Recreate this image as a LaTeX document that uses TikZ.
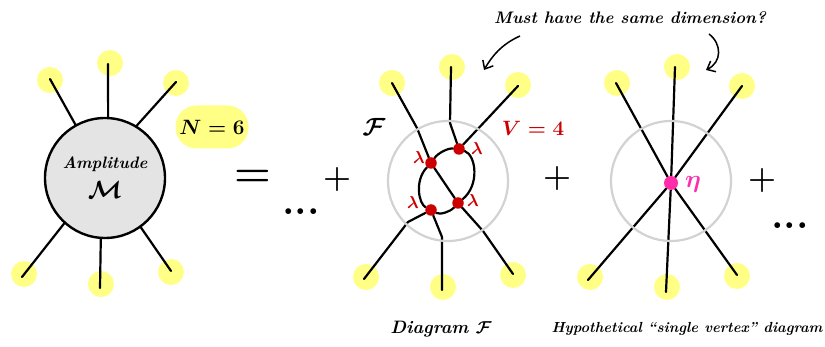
\documentclass[tikz,border=0pt]{standalone}
\usepackage{xcolor}
\definecolor{blobyellow}{HTML}{FFFF85}
\definecolor{ampgray}{HTML}{E4E4E4}
\definecolor{ringgray}{HTML}{D2D2D2}
\definecolor{vertred}{HTML}{CC0000}
\definecolor{vertpink}{HTML}{FF2DAA}
\usetikzlibrary{arrows.meta,backgrounds}
\newcommand{\handsize}[1]{\fontsize{#1}{#1}\selectfont}

\begin{document}
\begin{tikzpicture}[
x=1pt,y=-1pt,
blob/.style={circle,fill=blobyellow,minimum size=26pt,inner sep=0pt},
leg/.style={line width=2.2pt,line cap=round,line join=round},
ampl/.style={circle,draw,line width=2.4pt,fill=ampgray,minimum size=120pt,
inner sep=0pt,outer sep=0pt,align=center,font=\boldmath\bfseries\itshape\handsize{16.5}},
ring/.style={circle,draw=ringgray,line width=2.2pt,minimum size=120pt,
inner sep=0pt,outer sep=0pt},
vert/.style={circle,fill=vertred,minimum size=11.5pt,inner sep=0pt},
hand/.style={font=\boldmath\bfseries\itshape\handsize{18},inner sep=0pt},
sign/.style={font=\bfseries\handsize{32},inner sep=0pt},
dotsym/.style={font=\bfseries\handsize{40},inner sep=0pt},
lab/.style={text=vertred,font=\boldmath\handsize{18},inner sep=0pt},
note/.style={-{Straight Barb[length=7pt,width=12pt]},line width=1.5pt}
]
\useasboundingbox (0,0) rectangle (825,347);

% amplitude
\node[ampl] (amp) at (105,178) {Amplitude\\[9pt]\handsize{24}$\mathcal{M}$};
\begin{scope}[on background layer]
\foreach \n/\bx/\by/\ex/\ey/\ang in {1/50/80/50/79/119,2/110/63/108/64/87,
3/176/83/176/82/59,4/24/274/22/277/228,5/101/284/100/288/266,6/171/272/171/271/306}{
\node[blob] (a\n) at (\bx,\by) {};
\coordinate (ae\n) at (\ex,\ey);
\draw[leg] (ae\n) -- (amp.\ang);
}
\end{scope}
\node[rounded corners=21pt,fill=blobyellow,minimum width=73pt,minimum height=43pt,
inner sep=0pt,font=\boldmath\handsize{22}] (count) at (212,127) {$N=6$};

\node[sign,font=\bfseries\handsize{42}] (eq) at (253,178) {=};
\node[dotsym] (dots1) at (301,212) {...};
\node[sign] (plus1) at (337,180) {+};

% diagram F
\node[vert] (lam1) at (431,163) {};
\node[vert] (lam2) at (459,149) {};
\node[vert] (lam3) at (458,203) {};
\node[vert] (lam4) at (431,210) {};
\begin{scope}[on background layer]
\foreach \n/\bx/\by/\ex/\ey/\mx/\my/\v in {1/392/83/392/83/417/128/lam1,
2/452/67/451/67/450/123/lam2,3/518/85/518/86/490/116/lam2,
4/366/277/364/279/408/222/lam4,5/443/287/442/290/442/237/lam4,
6/513/275/513/274/483/231/lam3}{
\node[blob] (f\n) at (\bx,\by) {};
\coordinate (fe\n) at (\ex,\ey);
\coordinate (fm\n) at (\mx,\my);
\draw[leg] (fe\n) -- (fm\n) -- (\v);
}
\draw[leg] (lam1) -- (lam3);
\draw[leg] (lam1) .. controls (438,153) and (448,148) .. (lam2);
\draw[leg] (lam2) .. controls (476,155) and (480,185) .. (lam3);
\draw[leg] (lam3) .. controls (450,212) and (440,215) .. (lam4);
\draw[leg] (lam4) .. controls (419,204) and (414,181) .. (lam1);
\end{scope}
\node[ring] (ringf) at (448,181) {};
\node[lab] (l1) at (419,158) {$\lambda$};
\node[lab] (l2) at (477,149) {$\lambda$};
\node[lab] (l3) at (473,201) {$\lambda$};
\node[lab] (l4) at (413,203) {$\lambda$};
\node[lab,font=\boldmath\handsize{21}] (vcount) at (533,128) {$V=4$};
\node[inner sep=0pt,font=\boldmath\handsize{26}] (ftag) at (374,127) {$\mathcal{F}$};
\node[sign] (plus2) at (557,179) {+};

% single vertex
\node[vert,fill=vertpink,minimum size=14pt] (eta) at (671,183) {};
\begin{scope}[on background layer]
\foreach \n/\bx/\by/\ex/\ey in {1/617/83/616/83,2/677/67/675/67,3/742/86/742/86,
4/590/277/588/280,5/667/287/666/292,6/737/276/737/275}{
\node[blob] (s\n) at (\bx,\by) {};
\coordinate (se\n) at (\ex,\ey);
\draw[leg] (se\n) -- (eta);
}
\end{scope}
\node[ring] (rings) at (671,181) {};
\node[inner sep=0pt,text=vertpink,font=\boldmath\handsize{32}] (etalab) at (693,184) {$\eta$};
\node[sign] (plus3) at (762,181) {+};
\node[dotsym] (dots2) at (790,226) {...};

% remarks
\node[hand,font=\boldmath\bfseries\itshape\handsize{16.7}] (must) at (630,18) {Must have the same dimension?};
\coordinate (n1) at (520,36);
\coordinate (n2) at (484,70);
\coordinate (n3) at (709,34);
\coordinate (n4) at (706,70);
\draw[note] (n1) .. controls (502,44) and (492,56) .. (n2);
\draw[note] (n3) .. controls (722,44) and (722,62) .. (n4);
\node[hand] (capf) at (441,329) {Diagram $\mathcal{F}$};
\node[hand,font=\boldmath\bfseries\itshape\handsize{14.6}] (caps) at (687,329)
{Hypothetical \textquotedblleft single vertex\textquotedblright\ diagram};
\end{tikzpicture}
\end{document}
